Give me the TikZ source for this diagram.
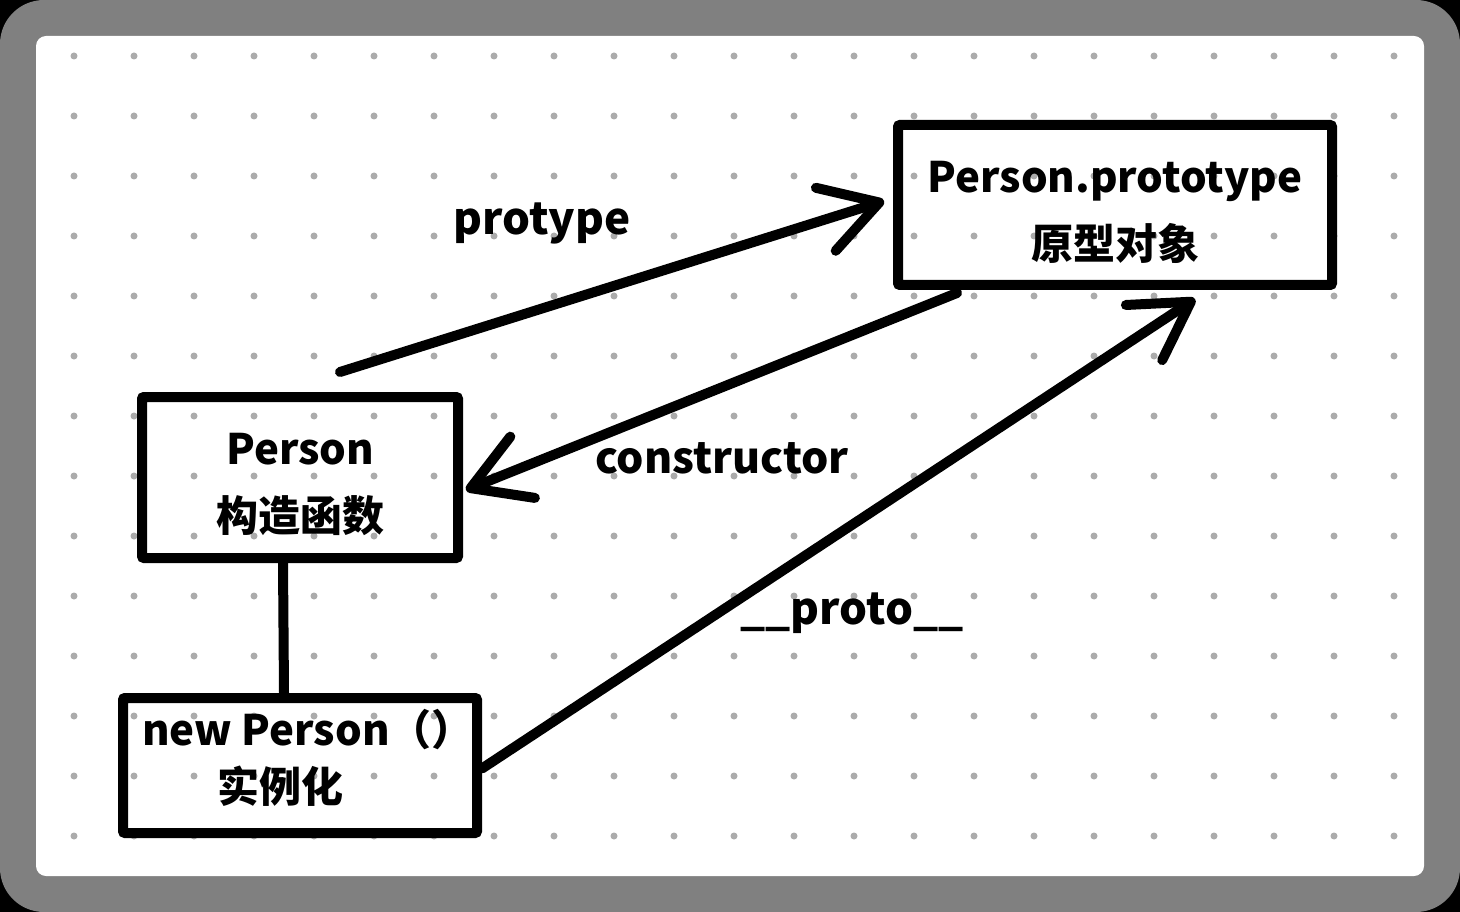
\documentclass[tikz,border=0pt]{standalone}
\usepackage{fontspec}
\setmainfont{Noto Sans CJK SC}
\usetikzlibrary{arrows.meta,positioning}
\definecolor{ink}{HTML}{000000}
\definecolor{frame}{HTML}{808080}
\definecolor{dotgray}{HTML}{ABABAB}
\tikzset{
  every node/.style={font=\bfseries\fontsize{44}{66}\selectfont, text=ink},
  box/.style={draw=ink, line width=10pt, rounded corners=2pt, inner sep=0pt},
  boxtext/.style={align=center, inner sep=0pt, font=\bfseries\fontsize{42}{67}\selectfont},
  lbl/.style={inner sep=0pt},
  arrow/.style={-{Straight Barb[length=56pt,width=66pt,round]}, line width=10pt, draw=ink, line cap=round},
  link/.style={line width=10pt, draw=ink},
}
\begin{document}
\begin{tikzpicture}[x=1pt,y=-1pt]
% frame and dotted grid
\fill[black] (0,0) rectangle (1460,912);
\fill[frame, rounded corners=44pt] (0,0) rectangle (1460,912);
\fill[white, rounded corners=10pt] (36,36) rectangle (1424,876);
\foreach \i in {0,...,22}
  \foreach \j in {0,...,13}
    \fill[dotgray] (74+60*\i,56+60*\j) circle (3.5pt);
% boxes
\node[box, minimum width=434pt, minimum height=160pt] (proto) at (1115,205) {};
\node[box, minimum width=316pt, minimum height=161pt] (person) at (300,477.5) {};
\node[box, below=130pt of person, minimum width=354pt, minimum height=135pt] (newp) {};
\node[boxtext] (protoTxt) at ([yshift=-7.5pt]proto.center) {Person.prototype\\原型对象};
\node[boxtext] (personTxt) at ([yshift=-7pt]person.center) {Person\\构造函数};
\node[boxtext] (newpTxt) at ([xshift=8pt,yshift=7.5pt]newp.center) {new Person（）\\[-10pt]\hspace*{-56pt}实例化};
% links
\draw[link] ([xshift=-17pt]person.south) -- ([xshift=-16pt]newp.north);
\draw[arrow] ([xshift=40pt,yshift=20pt]person.north) -- ([xshift=-9pt,yshift=4pt]proto.west);
\draw[arrow] ([xshift=64pt,yshift=-3pt]proto.south west) -- ([xshift=3pt,yshift=-12.5pt]person.east);
\draw[arrow] ([yshift=-3pt]newp.east) -- ([xshift=80pt,yshift=-9pt]proto.south);
% labels
\node[lbl] (lprotype) at (542,223) {protype};
\node[lbl, font=\bfseries\fontsize{43}{66}\selectfont] (lcons) at (722,458) {constructor};
\node[lbl] (lproto) at (852,613) {\_\_proto\_\_};
\end{tikzpicture}
\end{document}
